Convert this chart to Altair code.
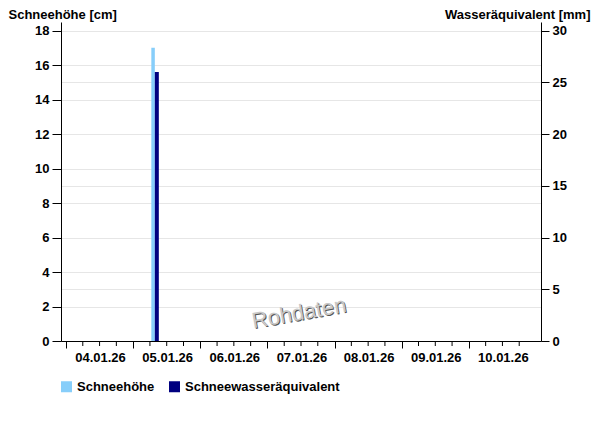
import altair as alt
import pandas as pd

# ---- data ----
series_names = ["Schneehöhe", "Schneewasseräquivalent"]
series_colors = ["#87cefa", "#000080"]

snow_times = ["2026-01-05T07:45:00Z"]
snow_depth_cm = [17.0]

swe_times = ["2026-01-05T07:45:00Z"]
swe_mm = [26.0]

day_ticks = ["2026-01-04", "2026-01-05", "2026-01-06", "2026-01-07",
             "2026-01-08", "2026-01-09", "2026-01-10"]
minor_hours = ["06", "12", "18"]

left_ticks = [0, 2, 4, 6, 8, 10, 12, 14, 16, 18]
right_ticks = [0, 5, 10, 15, 20, 25, 30]

watermark = ["Rohdaten"]

# ---- tables ----
snow_df = pd.DataFrame({"time": snow_times, "value": snow_depth_cm, "series": series_names[0]})
swe_df = pd.DataFrame({"time": swe_times, "value": swe_mm, "series": series_names[1]})
minor_df = pd.DataFrame({"time": [f"{d}T{h}:00:00Z" for d in day_ticks for h in minor_hours]})
wm_df = pd.DataFrame({"t": watermark})

FONT = "Liberation Sans"
W, H = 480, 319

xdomain = [alt.DateTime(year=2026, month=1, date=4, utc=True),
           alt.DateTime(year=2026, month=1, date=11, utc=True)]
xvalues = [alt.DateTime(year=2026, month=1, date=int(d[-2:]), utc=True) for d in day_ticks]

X = alt.X(
    "time:T",
    scale=alt.Scale(type="utc", domain=xdomain, nice=False),
    axis=alt.Axis(
        values=xvalues, format="%d.%m.%y", labelOffset=34, title=None,
        tickSize=7, labelPadding=3, grid=False, labelFlush=False, labelOverlap=False,
    ),
)

color = alt.Color(
    "series:N",
    scale=alt.Scale(domain=series_names, range=series_colors),
    legend=alt.Legend(
        orient="none", legendX=-1, legendY=358, direction="horizontal",
        symbolType="square", symbolSize=121, symbolStrokeWidth=0, title=None,
        labelFont=FONT, labelFontSize=13, labelFontWeight="bold", labelColor="#000",
        columnPadding=13, labelOffset=4,
    ),
)

snow = alt.Chart(snow_df).mark_bar(size=3.5, xOffset=-1.75).encode(
    x=X,
    y=alt.Y("value:Q", scale=alt.Scale(domain=[0, 18.5], nice=False, zero=True),
            axis=alt.Axis(orient="left", values=left_ticks, title="Schneehöhe [cm]",
                          titleAngle=0, titleX=-53, titleY=-4, titleAlign="left",
                          titleBaseline="alphabetic", tickSize=9, labelPadding=3,
                          grid=True)),
    color=color,
)

swe = alt.Chart(swe_df).mark_bar(size=4, xOffset=2).encode(
    x=X,
    y=alt.Y("value:Q", scale=alt.Scale(domain=[0, 30.833], nice=False, zero=True),
            axis=alt.Axis(orient="right", values=right_ticks, title="Wasseräquivalent [mm]",
                          titleAngle=0, titleX=49, titleY=-4, titleAlign="right",
                          titleBaseline="alphabetic", tickSize=8, labelPadding=3,
                          grid=True)),
    color=color,
)

minor = alt.Chart(minor_df).mark_rule(color="#000", strokeWidth=1).encode(
    x=X, y=alt.value(H), y2=alt.value(H + 5)
)

wm_shadow = alt.Chart(wm_df).mark_text(
    font=FONT, fontSize=22, angle=350, color="#555", align="center", baseline="middle"
).encode(text="t:N", x=alt.value(239), y=alt.value(292))

wm = alt.Chart(wm_df).mark_text(
    font=FONT, fontSize=22, angle=350, color="#c8c8c8", align="center", baseline="middle"
).encode(text="t:N", x=alt.value(238), y=alt.value(291))

chart = alt.layer(snow, swe, minor, wm_shadow, wm).resolve_scale(
    y="independent"
).properties(
    width=W, height=H,
    autosize=alt.AutoSizeParams(type="none"),
    padding={"left": 53, "top": 14, "right": 51, "bottom": 77},
).configure_view(
    stroke=None
).configure_axis(
    labelFont=FONT, labelFontSize=13, labelFontWeight="bold", labelColor="#000",
    titleFont=FONT, titleFontSize=13, titleFontWeight="bold", titleColor="#000",
    domainColor="#000", tickColor="#000", domainWidth=1, tickWidth=1,
    gridColor="#e6e6e6", gridWidth=1,
)

chart.save("out.html", embed_options={"renderer": "svg", "actions": False})
